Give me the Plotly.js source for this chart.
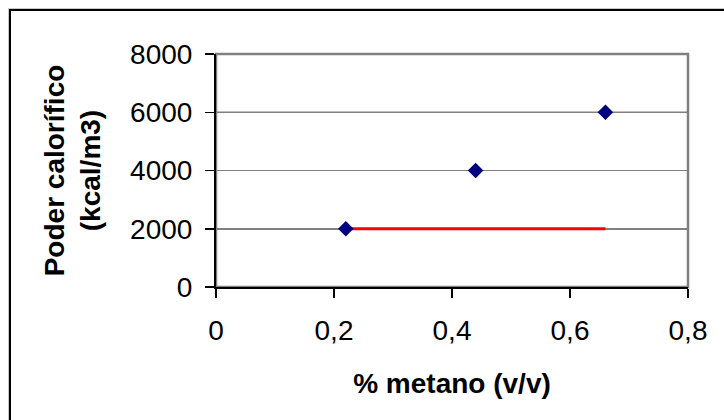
<!DOCTYPE html>
<html>
<head>
<meta charset="utf-8">
<script src="https://cdn.plot.ly/plotly-3.0.1.min.js"></script>
<style>
  html, body { margin: 0; padding: 0; overflow: hidden; background: #fff; }
  #wrap { position: relative; width: 724px; height: 420px; overflow: hidden; }
  #chart { width: 724px; height: 420px; }
  #frame { position: absolute; left: 9px; top: 9px; width: 800px; height: 500px;
           border-left: 2px solid #000; border-top: 2px solid #000; pointer-events: none;
           box-shadow: -1px -1px 0 #c8c8c8; }
</style>
</head>
<body>
<div id="wrap">
  <div id="chart"></div>
  <div id="frame"></div>
</div>
<script>
// Data
const metano = [0.22, 0.44, 0.66];          // % metano (v/v)
const poder = [2000, 4000, 6000];           // Poder calorífico (kcal/m3)
const lineX = [0.22, 0.66];                 // red line
const lineY = [2000, 2000];
const xTicks = [0, 0.2, 0.4, 0.6, 0.8];
const xTickText = ['0', '0,2', '0,4', '0,6', '0,8'];
const yTicks = [0, 2000, 4000, 6000, 8000];

const font = 'Liberation Sans, Arial, sans-serif';

const traces = [
  {
    x: lineX, y: lineY, type: 'scatter', mode: 'lines',
    line: { color: '#ff0000', width: 2.8 }, hoverinfo: 'skip', showlegend: false
  },
  {
    x: metano, y: poder, type: 'scatter', mode: 'markers',
    marker: { symbol: 'diamond', size: 12, color: '#000080' }, showlegend: false
  }
];

const layout = {
  width: 724, height: 420,
  margin: { l: 216, r: 36, t: 54, b: 133, pad: 0 },
  paper_bgcolor: '#ffffff', plot_bgcolor: '#ffffff',
  font: { family: font, size: 28, color: '#000' },
  showlegend: false,
  xaxis: {
    range: [0, 0.8], tickvals: xTicks, ticktext: xTickText,
    ticks: 'outside', ticklen: 9, tickwidth: 1.5, tickcolor: '#000',
    showgrid: false, zeroline: false,
    showline: true, linecolor: '#000', linewidth: 2,
    tickfont: { family: font, size: 28, color: '#000' },
    ticklabelstandoff: 8,
    title: { text: '<b>% metano (v/v)</b>', font: { family: font, size: 28, color: '#000' }, standoff: 29 }
  },
  yaxis: {
    range: [0, 8000], tickvals: yTicks,
    ticks: 'outside', ticklen: 9, tickwidth: 1.5, tickcolor: '#000',
    showgrid: true, gridcolor: '#808080', gridwidth: 1.5,
    zeroline: false,
    showline: true, linecolor: '#000', linewidth: 2,
    tickfont: { family: font, size: 28, color: '#000' },
    ticklabelstandoff: 7,
    title: { text: '<b>Poder calorífico<br>(kcal/m3)</b>', font: { family: font, size: 28, color: '#000' }, standoff: 21 }
  },
  shapes: [
    { type: 'rect', xref: 'paper', yref: 'paper', x0: 0, x1: 1, y0: 0, y1: 1,
      line: { color: '#808080', width: 2.5 }, layer: 'below' },
    { type: 'line', xref: 'paper', yref: 'y', x0: 0, x1: 1, y0: yTicks[3], y1: yTicks[3],
      line: { color: '#000', width: 1.2 }, layer: 'below' }
  ]
};

Plotly.newPlot('chart', traces, layout, { staticPlot: true, displayModeBar: false });
</script>
</body>
</html>
